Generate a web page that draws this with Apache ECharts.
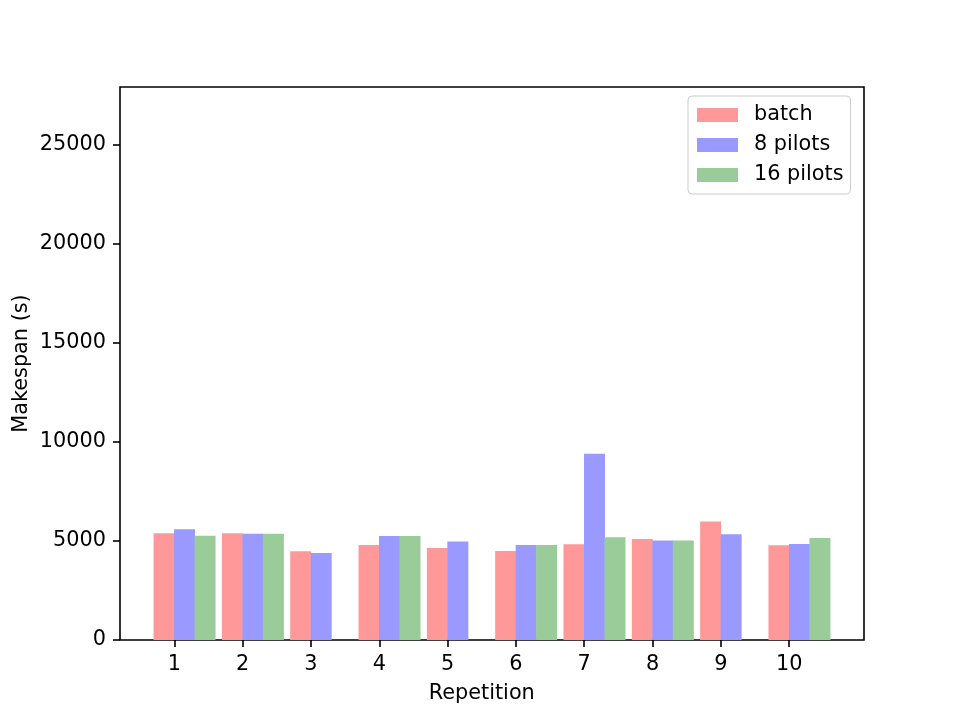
<!DOCTYPE html>
<html>
<head>
<meta charset="utf-8">
<script src="https://cdn.jsdelivr.net/npm/echarts@6/dist/echarts.min.js"></script>
<style>
  html, body { margin: 0; padding: 0; background: #fff; }
  #chart { width: 960px; height: 720px; }
</style>
</head>
<body>
<div id="chart"></div>
<script>
// values
const repetitions = [1, 2, 3, 4, 5, 6, 7, 8, 9, 10];
const batch = [5390, 5390, 4480, 4800, 4650, 4500, 4830, 5100, 5990, 4780];
const pilots8 = [5590, 5370, 4390, 5250, 4970, 4800, 9410, 5030, 5340, 4850];
const pilots16 = [5270, 5370, null, 5250, null, 4800, 5190, 5030, null, 5150];
const yTicks = [0, 5000, 10000, 15000, 20000, 25000];

const font = 'DejaVu Sans';
const fs = 20.8;
const barW = 0.3; // bar width in repetition units

// bar centre = repetition + offset, like ax.bar(x + k*w, ...)
function pairs(values, offset) {
  const out = [];
  values.forEach((v, i) => {
    if (v !== null) out.push([repetitions[i] + offset, v]);
  });
  return out;
}

const xMin = 0.205, xMax = 11.095;
const pxPerUnit = 744 / (xMax - xMin);

const chart = echarts.init(document.getElementById('chart'));

chart.setOption({
  animation: false,
  textStyle: { fontFamily: font },
  grid: [
    // plot frame + bars
    { left: 120, right: 96, top: 87, bottom: 80, show: true, borderColor: '#000', borderWidth: 1.6 },
    // x ticks at 1..10
    { left: 120 + (repetitions[0] - xMin) * pxPerUnit,
      width: (repetitions[repetitions.length - 1] - repetitions[0]) * pxPerUnit,
      top: 87, bottom: 80 },
    // y ticks 0..25000
    { left: 120, right: 96, top: 145, bottom: 80 }
  ],
  legend: {
    data: ['batch', '8 pilots', '16 pilots'],
    orient: 'vertical',
    left: 688,
    top: 96,
    padding: [7, 7, 7, 9],
    itemWidth: 41,
    itemHeight: 14,
    itemGap: 6,
    icon: 'rect',
    borderColor: '#cccccc',
    borderWidth: 1,
    borderRadius: 4,
    textStyle: { fontFamily: font, fontSize: fs, color: '#000', lineHeight: 24, padding: [0, 0, 0, 11] }
  },
  xAxis: [
    { gridIndex: 0, type: 'value', min: xMin, max: xMax,
      axisLine: { show: false }, axisTick: { show: false }, axisLabel: { show: false }, splitLine: { show: false } },
    { gridIndex: 1, type: 'value', min: repetitions[0], max: repetitions[repetitions.length - 1], interval: 1,
      axisLine: { show: false },
      axisTick: { show: true, inside: false, length: 7, lineStyle: { color: '#000', width: 1.6 } },
      axisLabel: { fontFamily: font, fontSize: fs, color: '#000', margin: 14 },
      splitLine: { show: false },
      name: 'Repetition', nameLocation: 'middle', nameGap: 43,
      nameTextStyle: { fontFamily: font, fontSize: fs, color: '#000' } },
    { gridIndex: 2, type: 'value', show: false }
  ],
  yAxis: [
    { gridIndex: 0, type: 'value', min: 0, max: 27930,
      axisLine: { show: false }, axisTick: { show: false }, axisLabel: { show: false }, splitLine: { show: false },
      name: 'Makespan (s)', nameLocation: 'middle', nameGap: 88,
      nameTextStyle: { fontFamily: font, fontSize: fs, color: '#000' } },
    { gridIndex: 1, type: 'value', show: false },
    { gridIndex: 2, type: 'value', min: yTicks[0], max: yTicks[yTicks.length - 1], interval: 5000,
      axisLine: { show: false },
      axisTick: { show: true, inside: false, length: 7, lineStyle: { color: '#000', width: 1.6 } },
      axisLabel: { fontFamily: font, fontSize: fs, color: '#000', margin: 14, formatter: v => String(v) },
      splitLine: { show: false } },
  ],
  series: [
    { name: 'batch', type: 'bar', xAxisIndex: 0, yAxisIndex: 0, data: pairs(batch, -barW / 2),
      barWidth: barW * pxPerUnit + 0.5, barGap: '-100%', itemStyle: { color: '#ff9999' } },
    { name: '8 pilots', type: 'bar', xAxisIndex: 0, yAxisIndex: 0, data: pairs(pilots8, barW / 2),
      barWidth: barW * pxPerUnit + 0.5, barGap: '-100%', itemStyle: { color: '#9999ff' } },
    { name: '16 pilots', type: 'bar', xAxisIndex: 0, yAxisIndex: 0, data: pairs(pilots16, barW * 1.5),
      barWidth: barW * pxPerUnit + 0.5, barGap: '-100%', itemStyle: { color: '#99cc99' } }
  ]
});
</script>
</body>
</html>
